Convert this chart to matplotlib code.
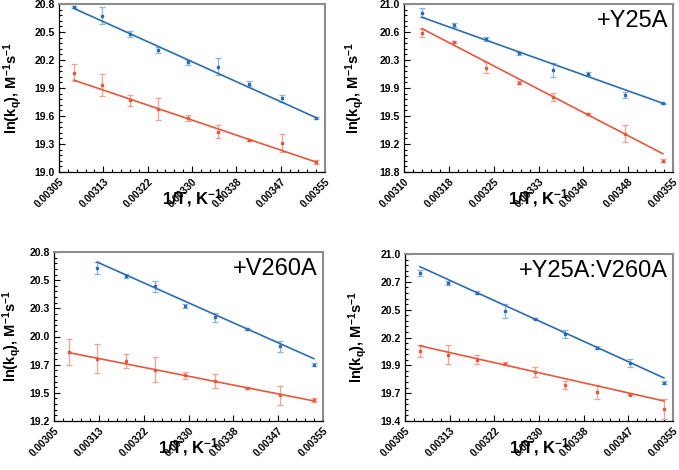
import numpy as np
import matplotlib
matplotlib.use('Agg')
import matplotlib.pyplot as plt
from matplotlib.ticker import AutoMinorLocator, FixedLocator, FixedFormatter

plt.rcParams['font.family'] = ['Liberation Sans', 'DejaVu Sans']
plt.rcParams['mathtext.fontset'] = 'custom'
plt.rcParams['mathtext.rm'] = 'Liberation Sans:bold'
plt.rcParams['mathtext.it'] = 'Liberation Sans:bold'
plt.rcParams['mathtext.bf'] = 'Liberation Sans:bold'

# 1/T values (K^-1)
invT = [0.003078, 0.00313, 0.003184, 0.003237, 0.003293, 0.003349, 0.003408, 0.00347, 0.003533]

titles = ['', '+Y25A', '+V260A', '+Y25A:V260A']

# blue series
blue_start = [0, 1, 1, 0]
blue_y = [
    [20.764, 20.675, 20.478, 20.306, 20.174, 20.127, 19.948, 19.79, 19.583],
    [20.887, 20.725, 20.542, 20.355, 20.137, 20.085, 19.81, 19.70],
    [20.649, 20.573, 20.475, 20.289, 20.182, 20.074, 19.907, 19.733],
    [20.821, 20.725, 20.629, 20.453, 20.382, 20.235, 20.104, 19.957, 19.765],
]
blue_err = [
    [0.01, 0.09, 0.03, 0.035, 0.025, 0.09, 0.03, 0.035, 0.01],
    [0.055, 0.03, 0.03, 0.02, 0.09, 0.02, 0.04, 0.01],
    [0.06, 0.02, 0.055, 0.015, 0.04, 0.01, 0.055, 0.015],
    [0.03, 0.02, 0.015, 0.07, 0.005, 0.04, 0.015, 0.04, 0.015],
]
blue_fit = [(20.753, 19.583), (20.826, 19.70), (20.705, 19.79), (20.878, 19.813)]

# red series
red_start = [0, 1, 0, 0]
red_y = [
    [20.063, 19.934, 19.77, 19.673, 19.58, 19.43, 19.347, 19.31, 19.107],
    [20.617, 20.5, 20.168, 19.972, 19.78, 19.562, 19.30, 18.948],
    [19.853, 19.79, 19.765, 19.686, 19.632, 19.579, 19.512, 19.443, 19.396],
    [20.069, 20.037, 19.989, 19.95, 19.87, 19.742, 19.678, 19.653, 19.518],
]
red_err = [
    [0.09, 0.115, 0.06, 0.12, 0.03, 0.07, 0.01, 0.1, 0.025],
    [0.055, 0.015, 0.075, 0.015, 0.055, 0.01, 0.11, 0.02],
    [0.12, 0.135, 0.065, 0.117, 0.035, 0.065, 0.01, 0.09, 0.02],
    [0.06, 0.09, 0.045, 0.015, 0.05, 0.04, 0.065, 0.005, 0.095],
]
red_fit = [(19.984, 19.107), (20.678, 19.039), (19.847, 19.39), (20.12, 19.592)]

# axis ranges and tick labels
xlims = [(0.00305, 0.00355), (0.00310, 0.00355), (0.00305, 0.00355), (0.00305, 0.00355)]
xlabels_a = ['0.00305', '0.00313', '0.00322', '0.00330', '0.00338', '0.00347', '0.00355']
xlabels_b = ['0.00310', '0.00318', '0.00325', '0.00333', '0.00340', '0.00348', '0.00355']
xticklabels = [xlabels_a, xlabels_b, xlabels_a, xlabels_a]
ylims = [(19.0, 20.8), (18.8, 21.0), (19.2, 20.8), (19.4, 21.0)]
yticklabels = [
    ['19.0', '19.3', '19.6', '19.9', '20.2', '20.5', '20.8'],
    ['18.8', '19.2', '19.5', '19.9', '20.3', '20.6', '21.0'],
    ['19.2', '19.5', '19.7', '20.0', '20.3', '20.5', '20.8'],
    ['19.4', '19.7', '19.9', '20.2', '20.5', '20.7', '21.0'],
]

W, H = 679, 470
# axes boxes in pixels: left, top, right, bottom
boxes = [(59, 4, 325, 172), (404, 4, 673, 172), (54, 252, 323, 421), (405, 254, 673, 421)]
ylab_x = [-35, -38, -31, -36]

BLUE = '#2b6cb3'
RED = '#e8563c'
BLUE_E = '#8fb2dc'
RED_E = '#f2a195'

fig = plt.figure(figsize=(W / 100, H / 100), dpi=100)
for i in range(4):
    l, t, r, b = boxes[i]
    ax = fig.add_axes([l / W, 1 - b / H, (r - l) / W, (b - t) / H])

    xb = invT[blue_start[i]:]
    ax.errorbar(xb, blue_y[i], yerr=blue_err[i], fmt='s', ms=1.8, color=BLUE,
                ecolor=BLUE_E, elinewidth=0.9, capsize=2, capthick=0.9, zorder=3)
    ax.plot([xb[0], xb[-1]], blue_fit[i], color=BLUE, lw=1.2, zorder=4)

    xr = invT[red_start[i]:]
    ax.errorbar(xr, red_y[i], yerr=red_err[i], fmt='s', ms=1.8, color=RED,
                ecolor=RED_E, elinewidth=0.9, capsize=2, capthick=0.9, zorder=3)
    ax.plot([xr[0], xr[-1]], red_fit[i], color=RED, lw=1.2, zorder=4)

    ax.set_xlim(*xlims[i])
    ax.set_ylim(*ylims[i])
    ax.xaxis.set_major_locator(FixedLocator(np.linspace(xlims[i][0], xlims[i][1], 7)))
    ax.xaxis.set_major_formatter(FixedFormatter(xticklabels[i]))
    ax.yaxis.set_major_locator(FixedLocator(np.linspace(ylims[i][0], ylims[i][1], 7)))
    ax.yaxis.set_major_formatter(FixedFormatter(yticklabels[i]))
    ax.xaxis.set_minor_locator(AutoMinorLocator(5))
    ax.yaxis.set_minor_locator(AutoMinorLocator(5))
    ax.tick_params(which='both', direction='in', top=False, right=False, width=0.8)
    ax.tick_params(which='major', length=4, pad=3)
    ax.tick_params(which='minor', length=2)
    ax.tick_params(axis='y', labelsize=7.5)
    for lab in ax.get_yticklabels():
        lab.set_fontweight('bold')
    for lab in ax.get_xticklabels():
        lab.set_fontweight('bold')
        lab.set_fontsize(7.3)
        lab.set_rotation(45)
        lab.set_ha('right')
        lab.set_rotation_mode('anchor')

    for s in ['top', 'right']:
        ax.spines[s].set_color('#8c8c8c')
        ax.spines[s].set_linewidth(1.5)
    for s in ['bottom', 'left']:
        ax.spines[s].set_color('black')
        ax.spines[s].set_linewidth(0.9)

    ax.set_xlabel('1/T, K$^{-1}$', fontsize=12, fontweight='bold')
    ax.xaxis.set_label_coords(0.5, -15 / (b - t))
    ax.xaxis.label.set_va('top')
    ax.set_ylabel('ln(k$_{\\mathrm{q}}$), M$^{-1}$s$^{-1}$', fontsize=10.5, fontweight='bold')
    ax.yaxis.set_label_coords(ylab_x[i] / (r - l), 0.5)

    if titles[i]:
        ax.text(1 - 5 / (r - l), 1 - 6 / (b - t), titles[i], transform=ax.transAxes,
                ha='right', va='top', fontsize=17)

plt.savefig('out.png', dpi=100)
